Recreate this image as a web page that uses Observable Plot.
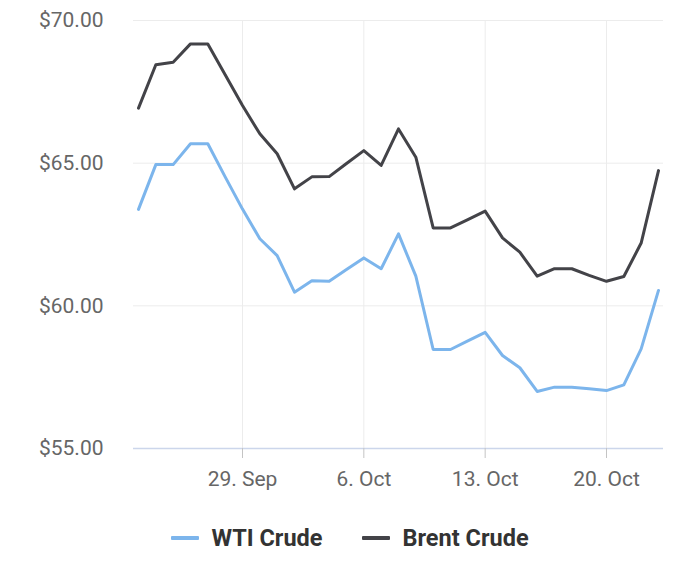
<!DOCTYPE html>
<html>
<head>
<meta charset="utf-8">
<script src="https://cdn.jsdelivr.net/npm/d3@7"></script>
<script src="https://cdn.jsdelivr.net/npm/@observablehq/plot@0.6"></script>
<style>
  html, body { margin: 0; padding: 0; background: #fff; }
  body { width: 700px; height: 570px; overflow: hidden; font-family: Roboto, "Noto Sans", sans-serif; }
  #legend { display: flex; justify-content: center; align-items: center; height: 76px; }
  .item { display: flex; align-items: center; font-weight: bold; font-size: 23.5px; color: #333333; }
  .item + .item { margin-left: 40px; }
  .sw { width: 28px; height: 4px; margin-right: 12px; border-radius: 1px; }
</style>
</head>
<body>
<div id="chart"></div>
<div id="legend"></div>
<script>
const dates = [
  "2019-09-23","2019-09-24","2019-09-25","2019-09-26","2019-09-27","2019-09-28","2019-09-29",
  "2019-09-30","2019-10-01","2019-10-02","2019-10-03","2019-10-04","2019-10-05","2019-10-06",
  "2019-10-07","2019-10-08","2019-10-09","2019-10-10","2019-10-11","2019-10-12","2019-10-13",
  "2019-10-14","2019-10-15","2019-10-16","2019-10-17","2019-10-18","2019-10-19","2019-10-20",
  "2019-10-21","2019-10-22","2019-10-23"
];
const wti = [
  63.38, 64.95, 64.95, 65.68, 65.68, 64.52, 63.39,
  62.35, 61.76, 60.48, 60.88, 60.86, 61.27, 61.68,
  61.30, 62.52, 61.04, 58.47, 58.47, 58.77, 59.07,
  58.26, 57.83, 57.00, 57.15, 57.15, 57.09, 57.03,
  57.23, 58.49, 60.54
];
const brent = [
  66.93, 68.45, 68.54, 69.18, 69.18, 68.10, 67.02,
  66.03, 65.33, 64.10, 64.52, 64.53, 64.99, 65.44,
  64.92, 66.20, 65.21, 62.73, 62.73, 63.02, 63.32,
  62.38, 61.88, 61.04, 61.30, 61.30, 61.07, 60.86,
  61.03, 62.20, 64.74
];
const seriesNames = ["WTI Crude", "Brent Crude"];
const seriesColors = ["#7cb5ec", "#434348"];
const yTicks = [55, 60, 65, 70];
const xTickDates = ["2019-09-29", "2019-10-06", "2019-10-13", "2019-10-20"];

const parse = d3.utcParse("%Y-%m-%d");
const rows = [];
dates.forEach((d, i) => {
  rows.push({date: parse(d), value: wti[i], series: seriesNames[0]});
  rows.push({date: parse(d), value: brent[i], series: seriesNames[1]});
});
const xTicks = xTickDates.map(parse);

const chart = Plot.plot({
  width: 700,
  height: 500,
  marginTop: 20,
  marginBottom: 52,
  marginLeft: 133,
  marginRight: 37,
  style: {fontFamily: "Roboto, sans-serif", fontSize: "21px", color: "#666666", background: "#fff"},
  x: {type: "utc", domain: [parse(dates[0]), parse(dates[dates.length - 1])], insetLeft: 5, insetRight: 5},
  y: {domain: [55, 70]},
  color: {domain: seriesNames, range: seriesColors},
  marks: [
    Plot.ruleY(yTicks.filter(t => t !== 55), {stroke: "#ececec", strokeWidth: 1}),
    Plot.ruleX(xTicks, {stroke: "#ececec", strokeWidth: 1}),
    Plot.ruleY([55], {stroke: "#ccd6eb", strokeWidth: 1.5}),
    Plot.axisY({ticks: yTicks, tickSize: 0, tickPadding: 30, tickFormat: d => "$" + d.toFixed(2), label: null, fill: "#666666", fontSize: 21}),
    Plot.axisX({ticks: xTicks, tickSize: 10, tickPadding: 13, tickFormat: d3.utcFormat("%-d. %b"), label: null, stroke: "#c4c4c4", fill: "#666666", fontSize: 21}),
    Plot.line(rows, {x: "date", y: "value", z: "series", stroke: "series", strokeWidth: 3, strokeLinejoin: "round", strokeLinecap: "round", curve: "linear"})
  ]
});
document.getElementById("chart").appendChild(chart);

const legend = document.getElementById("legend");
seriesNames.forEach((n, i) => {
  const item = document.createElement("div");
  item.className = "item";
  const sw = document.createElement("span");
  sw.className = "sw";
  sw.style.background = seriesColors[i];
  item.appendChild(sw);
  item.appendChild(document.createTextNode(n));
  legend.appendChild(item);
});
</script>
</body>
</html>
